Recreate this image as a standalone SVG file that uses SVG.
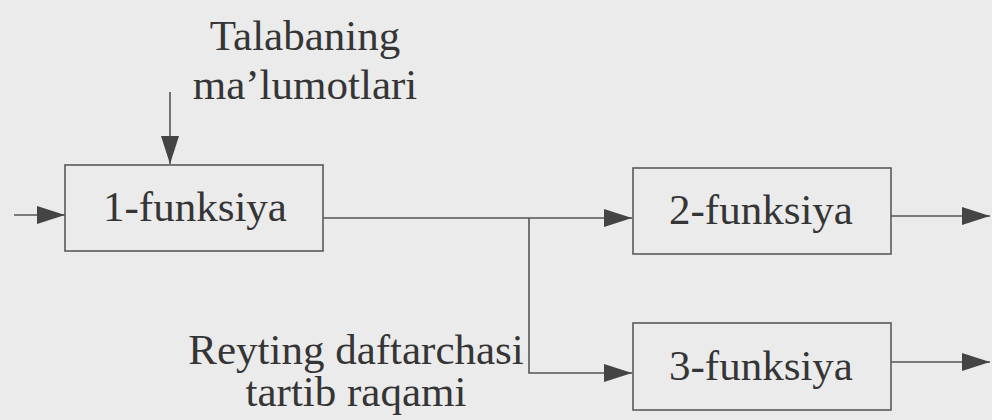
<svg xmlns="http://www.w3.org/2000/svg" width="992" height="420" viewBox="0 0 992 420">
<defs>
<style>
.bg{fill:#ebebeb}
.box{fill:none;stroke:#5a5a5a;stroke-width:1.6}
.lbl{font-size:43px;fill:#353535;text-anchor:middle}
.con{fill:none;stroke:#555;stroke-width:1.6}
</style>
<marker id="ah" markerUnits="userSpaceOnUse" markerWidth="28" markerHeight="18" refX="28" refY="9" orient="auto">
<path d="M0,0 L28,9 L0,18 z" fill="#444"/>
</marker>
</defs>
<rect class="bg" x="0" y="0" width="992" height="420"/>
<g id="connectors">
<line class="con" x1="14" y1="215" x2="65" y2="215" marker-end="url(#ah)"/>
<line class="con" x1="170" y1="92" x2="170" y2="164" marker-end="url(#ah)"/>
<path class="con" d="M323,218 H632" marker-end="url(#ah)"/>
<path class="con" d="M529,218 V373 H632" marker-end="url(#ah)"/>
<path class="con" d="M891,216 H990" marker-end="url(#ah)"/>
<path class="con" d="M891,362 H990" marker-end="url(#ah)"/>
</g>
<g id="input-label" font-family="'Liberation Serif', 'Times New Roman', 'DejaVu Serif', serif">
<text class="lbl" x="305" y="50">Talabaning</text>
<text class="lbl" x="305" y="99">ma’lumotlari</text>
</g>
<g id="f1" font-family="'Liberation Serif', 'Times New Roman', 'DejaVu Serif', serif">
<rect class="box" x="65" y="165" width="258" height="86"/>
<text class="lbl" x="195" y="221">1-funksiya</text>
</g>
<g id="f2" font-family="'Liberation Serif', 'Times New Roman', 'DejaVu Serif', serif">
<rect class="box" x="633" y="168" width="258" height="86"/>
<text class="lbl" x="761" y="224">2-funksiya</text>
</g>
<g id="f3" font-family="'Liberation Serif', 'Times New Roman', 'DejaVu Serif', serif">
<rect class="box" x="633" y="323" width="258" height="87"/>
<text class="lbl" x="761" y="380">3-funksiya</text>
</g>
<g id="branch-label" font-family="'Liberation Serif', 'Times New Roman', 'DejaVu Serif', serif">
<text class="lbl" x="356" y="364">Reyting daftarchasi</text>
<text class="lbl" x="356" y="406">tartib raqami</text>
</g>
</svg>
